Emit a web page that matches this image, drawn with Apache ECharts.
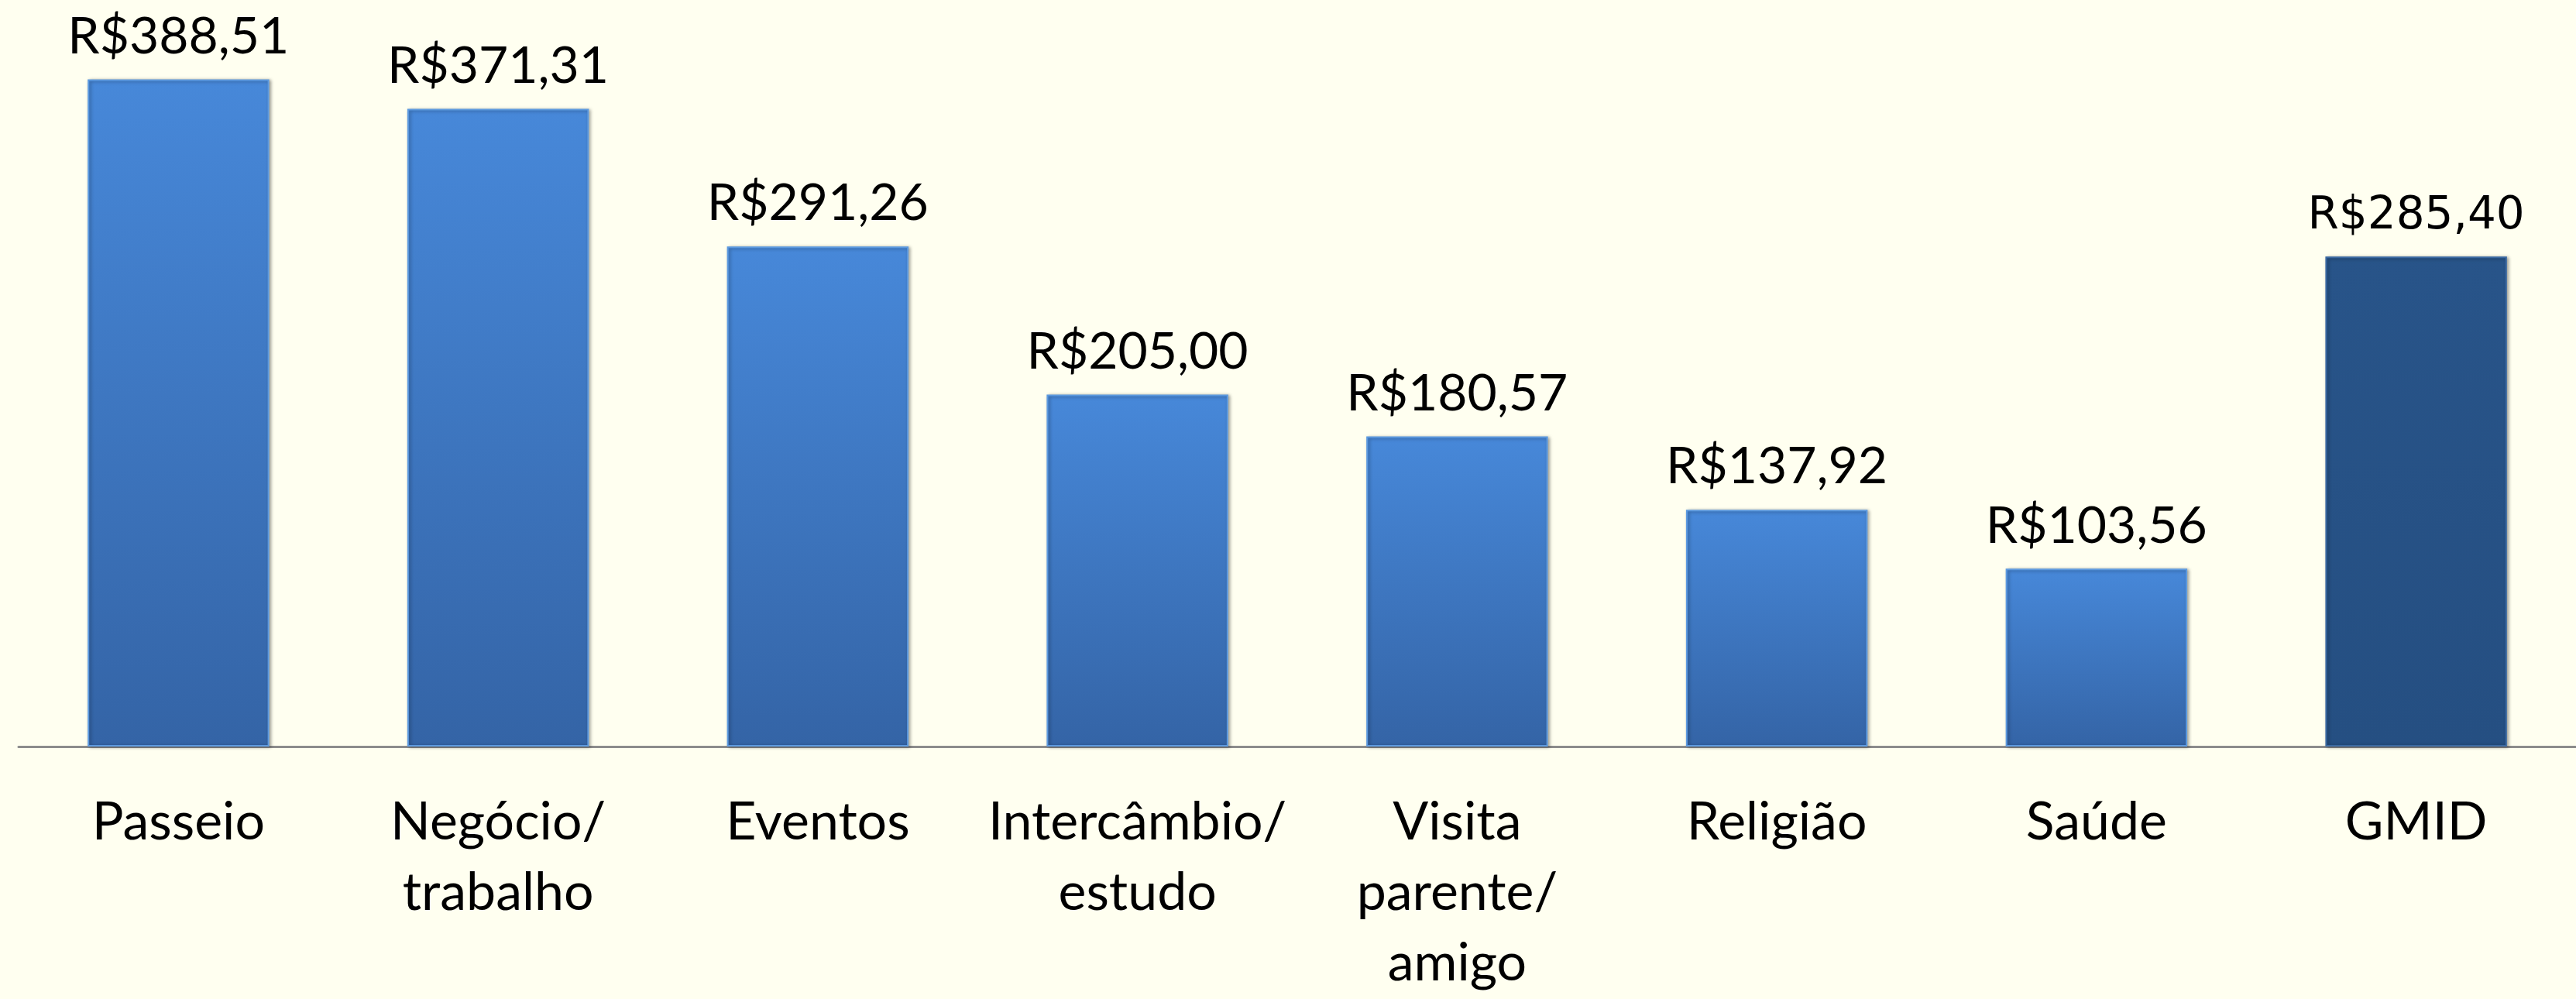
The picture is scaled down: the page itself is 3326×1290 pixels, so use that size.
<!DOCTYPE html>
<html>
<head>
<meta charset="utf-8">
<script src="https://cdn.jsdelivr.net/npm/echarts@6/dist/echarts.min.js"></script>
<style>
html,body{margin:0;padding:0;background:#FFFFF0;}
#chart{width:3326px;height:1290px;}
</style>
</head>
<body>
<div id="chart"></div>
<script>
const categories = ['Passeio', 'Negócio/\ntrabalho', 'Eventos', 'Intercâmbio/\nestudo', 'Visita\nparente/\namigo', 'Religião', 'Saúde', 'GMID'];
const values = [388.51, 371.31, 291.26, 205.00, 180.57, 137.92, 103.56, 285.40];
const highlightIndex = 7;

function fmt(v) { return 'R$' + v.toFixed(2).replace('.', ','); }

const normalFill = {type:'linear', x:0, y:0, x2:0, y2:1, colorStops:[{offset:0,color:'#4788D9'},{offset:1,color:'#3464A6'}]};
const darkFill = {type:'linear', x:0, y:0, x2:0, y2:1, colorStops:[{offset:0,color:'#285489'},{offset:1,color:'#254F82'}]};

const seriesData = values.map((v, i) => {
  const hi = i === highlightIndex;
  return {
    value: v,
    itemStyle: {
      color: hi ? darkFill : normalFill,
      borderColor: hi ? '#3B6AA3' : '#5D9AE0',
      borderWidth: 2,
      shadowColor: 'rgba(0,0,0,0.35)',
      shadowBlur: 4,
      shadowOffsetX: 2,
      shadowOffsetY: 1
    },
    label: hi ? { fontFamily: 'DejaVu Sans', fontSize: 58 } : {}
  };
});

const chart = echarts.init(document.getElementById('chart'));
chart.setOption({
  backgroundColor: '#FFFFF0',
  animation: false,
  grid: { left: 24, right: 0, top: 77, bottom: 311, containLabel: false },
  xAxis: {
    type: 'category',
    data: categories,
    axisLine: { show: true, lineStyle: { color: '#8C8C8C', width: 3 } },
    axisTick: { show: false },
    axisLabel: {
      interval: 0,
      margin: 53,
      fontFamily: 'Lato',
      fontSize: 68,
      color: '#000',
      lineHeight: 91
    }
  },
  yAxis: {
    type: 'value',
    min: 0,
    max: 400,
    show: false,
    splitLine: { show: false }
  },
  series: [{
    type: 'bar',
    data: seriesData,
    barCategoryGap: '43.2%',
    label: {
      show: true,
      position: 'top',
      distance: 22,
      fontFamily: 'Lato',
      fontSize: 66,
      color: '#000',
      formatter: p => fmt(p.value)
    }
  }]
});
</script>
</body>
</html>
